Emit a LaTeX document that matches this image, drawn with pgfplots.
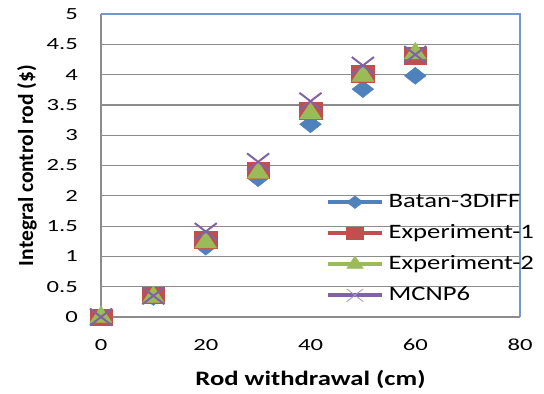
\documentclass[border=0pt]{standalone}
\usepackage{fontspec}
\setmainfont{Carlito}[FakeStretch=1.3]
\newfontfamily\tickfont{Carlito}[FakeStretch=1.45]
\newfontfamily\ylabfont{Carlito}
\usepackage{pgfplots}
\pgfplotsset{compat=1.18}
\definecolor{bl}{HTML}{4F81BD}
\definecolor{rd}{HTML}{C0504D}
\definecolor{gr}{HTML}{9BBB59}
\definecolor{pu}{HTML}{8064A2}
\definecolor{border}{HTML}{7398CC}
\definecolor{gridc}{HTML}{8C8C8C}
\begin{document}
\begin{tikzpicture}
\useasboundingbox (-101bp,-77bp) rectangle (443bp,317bp);
\begin{axis}[
  scale only axis, width=419bp, height=303bp,
  xmin=0, xmax=80, ymin=0, ymax=5,
  xtick={0,20,40,60,80},
  ytick={0,0.5,1,1.5,2,2.5,3,3.5,4,4.5,5},
  major tick length=0pt,
  ymajorgrids, grid style={gridc, line width=1.2bp},
  axis line style={draw=none},
  clip=false,
  /pgf/number format/assume math mode=true,
  yticklabel style={font=\tickfont\fontsize{17bp}{20bp}\selectfont, anchor=east, inner sep=0pt, xshift=-23bp},
  xticklabel style={font=\tickfont\fontsize{17bp}{20bp}\selectfont, anchor=north, inner sep=0pt, yshift=-22bp},
  xlabel={Rod withdrawal (cm)},
  ylabel={Integral control rod (\$)},
  every axis x label/.style={at={(rel axis cs:0.5,-0.175)}, anchor=north, inner sep=0pt, font=\bfseries\fontsize{20.5bp}{24bp}\selectfont},
  every axis y label/.style={at={(rel axis cs:-0.153,0.5)}, rotate=90, anchor=south, inner sep=0pt, font=\ylabfont\bfseries\fontsize{21.5bp}{25bp}\selectfont},
  legend style={draw=none, fill=none, at={(rel axis cs:0.537,0.2254)}, anchor=west, inner sep=0pt, row sep=13bp, column sep=5bp,
    font=\fontsize{20.5bp}{24bp}\selectfont, nodes={inner sep=0pt, text height=14bp, text depth=4bp}},
  legend cell align=left,
  legend image code/.code={\draw[#1, sharp plot, line width=3.5bp, mark repeat=2, mark phase=2, every mark/.append style={scale=0.75}] plot coordinates {(0bp,0bp)(27bp,0bp)(54bp,0bp)};},
]
\draw[gridc, line width=1.3bp] (rel axis cs:1,0) -- (rel axis cs:0,0) -- (rel axis cs:0,1);
\draw[border, line width=1.3bp] (rel axis cs:0,1) -- (rel axis cs:1,1) -- (rel axis cs:1,0);
\addplot[only marks, color=bl, mark=diamond*, mark size=8.5bp, mark options={xscale=1.7, line width=0.4bp, fill=bl, draw=bl}]
  coordinates {(0,0) (10,0.33) (20,1.16) (30,2.29) (40,3.18) (50,3.76) (60,3.98)};
\addlegendentry{Batan-3DIFF}
\addplot[only marks, color=rd, mark=square*, mark size=8.3bp, mark options={xscale=1.35, line width=0.4bp, fill=rd, draw=rd}]
  coordinates {(0,0) (10,0.36) (20,1.28) (30,2.42) (40,3.40) (50,4.01) (60,4.31)};
\addlegendentry{Experiment-1}
\addplot[only marks, color=gr, mark=triangle*, mark size=11bp, mark options={xscale=1.15, line width=0.4bp, fill=gr, draw=gr}]
  coordinates {(0,0) (10,0.33) (20,1.23) (30,2.38) (40,3.36) (50,3.98) (60,4.35)};
\addlegendentry{Experiment-2}
\addplot[only marks, color=pu, mark=x, mark size=12bp, mark options={xscale=1.3, line width=2bp, draw=pu},
  legend image post style={every mark/.append style={line width=0.8bp, draw=pu!70}}]
  coordinates {(0,0) (10,0.35) (20,1.41) (30,2.56) (40,3.56) (50,4.15) (60,4.33)};
\addlegendentry{MCNP6}
\end{axis}
\end{tikzpicture}
\end{document}
